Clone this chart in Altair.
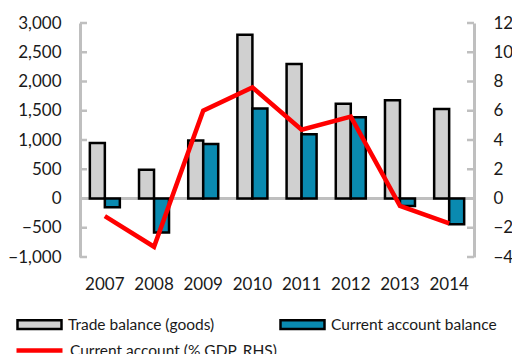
import altair as alt
import pandas as pd

# Annual figures, 2007-2014
years = ["2007", "2008", "2009", "2010", "2011", "2012", "2013", "2014"]
trade_balance = [950, 490, 990, 2800, 2300, 1620, 1680, 1530]
current_account = [-150, -580, 930, 1540, 1100, 1390, -130, -440]
ca_pct_gdp = [-1.2, -3.3, 6.0, 7.6, 4.7, 5.6, -0.5, -1.7]

left_ticks = [-1000, -500, 0, 500, 1000, 1500, 2000, 2500, 3000]
right_ticks = [-4, -2, 0, 2, 4, 6, 8, 10, 12]

series_names = ["Trade balance (goods)", "Current account balance"]
line_name = "Current account (% GDP, RHS)"

bars_df = pd.DataFrame(
    {
        "year": years * 2,
        "series": [series_names[0]] * len(years) + [series_names[1]] * len(years),
        "value": trade_balance + current_account,
    }
)
line_df = pd.DataFrame({"year": years, "pct": ca_pct_gdp, "label": [line_name] * len(years)})
left_tick_df = pd.DataFrame({"value": left_ticks})
right_tick_df = pd.DataFrame({"pct": right_ticks})

W, H = 394, 234
GRID = "#bfbfbf"
FONT = "Lato"
TEXT = "#1a1a1a"

x_enc = alt.X(
    "year:N",
    sort=years,
    scale=alt.Scale(paddingInner=0.39, paddingOuter=0.2),
    axis=alt.Axis(
        title=None, domain=False, ticks=False, labelAngle=0,
        labelPadding=19, labelFontSize=17, labelFont=FONT, labelColor=TEXT,
    ),
)

left_scale = alt.Scale(domain=[-1000, 3000], nice=False, zero=False)
left_axis = alt.Axis(
    title=None, values=left_ticks, format=",.0f", ticks=False, grid=False,
    domainColor=GRID, domainWidth=3, labelPadding=19,
    labelFontSize=17, labelFont=FONT, labelColor=TEXT,
)
right_scale = alt.Scale(domain=[-4, 12], nice=False, zero=False)
right_axis = alt.Axis(
    title=None, values=right_ticks, format="d", ticks=False, grid=False, orient="right",
    domainColor=GRID, domainWidth=3, labelPadding=19,
    labelFontSize=17, labelFont=FONT, labelColor=TEXT,
)

# horizontal category axis crossing at zero
zero_line = alt.Chart(bars_df).mark_rule(color=GRID, strokeWidth=2.5).encode(
    y=alt.datum(0, scale=left_scale, axis=left_axis)
)

bars = alt.Chart(bars_df).mark_bar(stroke="black", strokeWidth=2.5).encode(
    x=x_enc,
    xOffset=alt.XOffset("series:N", sort=series_names, scale=alt.Scale(paddingInner=0, paddingOuter=0)),
    y=alt.Y("value:Q", scale=left_scale, axis=left_axis),
    fill=alt.Fill(
        "series:N",
        sort=series_names,
        scale=alt.Scale(domain=series_names, range=["#d0d0d0", "#0a8ab0"]),
        legend=alt.Legend(
            title=None, orient="none", direction="horizontal", columns=2,
            legendX=-64, legendY=278, padding=0, columnPadding=60,
            symbolType="M-1,-0.2H1V0.2H-1Z", symbolSize=1936,
            symbolStrokeColor="black", symbolStrokeWidth=2.5, symbolOpacity=1,
            labelFont=FONT, labelFontSize=15.5, labelColor=TEXT, labelOffset=5,
            labelLimit=300,
        ),
    ),
)

# inward tick marks on the left axis
left_tick_marks = alt.Chart(left_tick_df).mark_rule(color=GRID, strokeWidth=2.5).encode(
    y=alt.Y("value:Q", scale=left_scale, axis=left_axis),
    x=alt.value(0),
    x2=alt.value(7),
)

line = alt.Chart(line_df).mark_line(strokeWidth=4.5, strokeJoin="miter").encode(
    x=x_enc,
    y=alt.Y("pct:Q", scale=right_scale, axis=right_axis),
    stroke=alt.Stroke(
        "label:N",
        scale=alt.Scale(domain=[line_name], range=["#ff0000"]),
        legend=alt.Legend(
            title=None, orient="none", legendX=-66, legendY=302, padding=0,
            symbolType="stroke", symbolSize=2116, symbolStrokeWidth=4.5,
            labelFont=FONT, labelFontSize=15.5, labelColor=TEXT, labelOffset=5,
            labelLimit=300,
        ),
    ),
)

# inward tick marks on the right axis
right_tick_marks = alt.Chart(right_tick_df).mark_rule(color=GRID, strokeWidth=2.5).encode(
    y=alt.Y("pct:Q", scale=right_scale, axis=right_axis),
    x=alt.value(W - 7),
    x2=alt.value(W),
)

left_layer = alt.layer(zero_line, bars, left_tick_marks)
right_layer = alt.layer(right_tick_marks, line)

chart = (
    alt.layer(left_layer, right_layer)
    .resolve_scale(y="independent", fill="independent", stroke="independent")
    .properties(
        width=W,
        height=H,
        padding={"left": 80, "top": 23, "right": 38, "bottom": 97},
        autosize=alt.AutoSizeParams(type="none"),
        background="white",
    )
    .configure_view(stroke=None)
)

chart.save("out.html", embed_options={"renderer": "svg", "actions": False})
